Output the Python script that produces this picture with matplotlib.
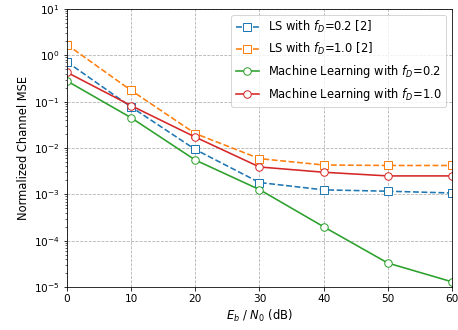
import numpy as np
import matplotlib
matplotlib.use('agg')
import matplotlib.pyplot as plt

snr = [0, 10, 20, 30, 40, 50, 60]
ls_02 = [0.72, 0.077, 0.0093, 0.0018, 0.00125, 0.00117, 0.00107]
ls_10 = [1.7, 0.175, 0.0205, 0.0059, 0.0043, 0.0042, 0.0042]
ml_02 = [0.28, 0.045, 0.0055, 0.00127, 0.0002, 3.3e-5, 1.3e-5]
ml_10 = [0.43, 0.082, 0.0172, 0.0039, 0.003, 0.0025, 0.0025]

fig = plt.figure(figsize=(458/72, 330/72), dpi=72)
ax = fig.add_axes([0.146, 0.130, 0.841, 0.843])

ms = 7.5
ax.semilogy(snr, ls_02, '--s', color='#1f77b4', mfc='white', ms=ms, lw=1.6,
            label='LS with $f_D$=0.2 [2]')
ax.semilogy(snr, ls_10, '--s', color='#ff7f0e', mfc='white', ms=ms, lw=1.6,
            label='LS with $f_D$=1.0 [2]')
ax.semilogy(snr, ml_02, '-o', color='#2ca02c', mfc='white', ms=ms, lw=1.6,
            label='Machine Learning with $f_D$=0.2')
ax.semilogy(snr, ml_10, '-o', color='#d62728', mfc='white', ms=ms, lw=1.6,
            label='Machine Learning with $f_D$=1.0')

ax.set_xlim(0, 60)
ax.set_ylim(1e-5, 1e1)
ax.set_xticks(snr)
ax.tick_params(labelsize=10.5)
ax.grid(True, which='major', linestyle='--', color='#b0b0b0', lw=0.8)
ax.set_xlabel('$E_b$ / $N_0$ (dB)', fontsize=11.5, labelpad=4)
ax.set_ylabel('Normalized Channel MSE', fontsize=11.5)
ax.legend(loc='upper right', fontsize=11.5)

fig.savefig('out.png', dpi=72)
